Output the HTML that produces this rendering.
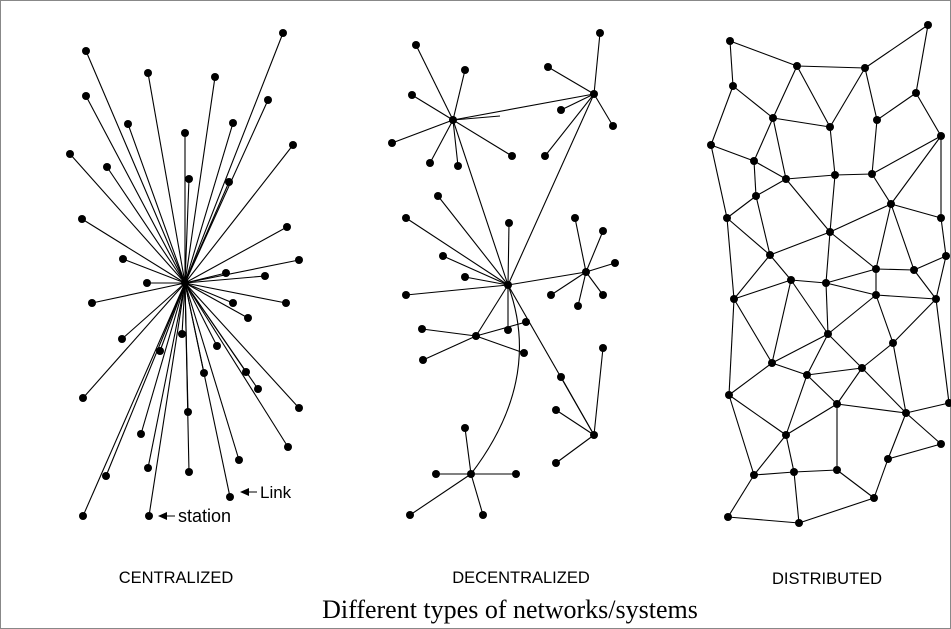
<!DOCTYPE html>
<html><head><meta charset="utf-8"><style>
html,body{margin:0;padding:0;background:#fff}
svg{display:block}
</style></head><body>
<svg id="chart" width="951" height="629" viewBox="0 0 951 629" xmlns="http://www.w3.org/2000/svg">
<rect x="0.5" y="0.5" width="950" height="628" fill="#fff" stroke="#888" stroke-width="1"/>
<g id="edges" stroke="#000" stroke-width="1.1" fill="none"></g>
<g id="nodes" fill="#000"></g>
<text x="176" y="583" font-family="Liberation Sans, sans-serif" font-size="16.5" text-anchor="middle">CENTRALIZED</text>
<text x="521" y="583" font-family="Liberation Sans, sans-serif" font-size="16.5" text-anchor="middle">DECENTRALIZED</text>
<text x="827" y="584" font-family="Liberation Sans, sans-serif" font-size="16.5" text-anchor="middle">DISTRIBUTED</text>
<text x="510" y="618" font-family="Liberation Serif, serif" font-size="26" text-anchor="middle">Different types of networks/systems</text>
<g>
<polygon points="240,492 249,488 249,496" fill="#000"/><line x1="248" y1="492" x2="257" y2="492" stroke="#000"/>
<text x="260" y="498" font-family="Liberation Sans, sans-serif" font-size="17">Link</text></g>
<g>
<polygon points="158,516 167,512 167,520" fill="#000"/><line x1="166" y1="516" x2="175" y2="516" stroke="#000"/>
<text x="178" y="522" font-family="Liberation Sans, sans-serif" font-size="18">station</text></g>
</svg>
<script>
const centralHub=[185,283];
const centralLeaves=[[86,51],[283,33],[148,73],[86,96],[215,77],[268,100],[128,124],[185,133],[233,123],[70,154],[293,145],[107,167],[189,179],[229,182],[82,219],[287,227],[123,259],[147,283],[226,273],[265,276],[299,260],[92,303],[233,303],[286,303],[182,334],[122,339],[248,318],[160,351],[217,346],[83,398],[204,373],[246,372],[188,412],[141,434],[258,389],[299,408],[288,447],[148,468],[189,472],[239,460],[106,476],[230,497],[83,516],[149,516]];
const decHubs=[[453,120],[594,94],[508,285],[586,272],[476,336],[594,435],[471,474]];
const decLeaves=[
[[416,45],[465,70],[412,95],[392,143],[430,163],[458,166],[512,156]],
[[600,33],[548,67],[561,110],[613,126],[545,156]],
[[438,196],[406,218],[443,256],[465,277],[509,223],[406,295],[508,330]],
[[575,218],[603,231],[615,263],[551,295],[578,306],[603,295]],
[[422,329],[526,322],[423,360],[524,353]],
[[603,348],[561,377],[556,410],[556,463]],
[[465,428],[436,474],[516,474],[410,515],[483,515]]];
const decHubLinks=[[0,1],[0,2],[1,2],[2,3],[2,4],[2,5]];
const distNames="a b c d e f g h i j k l m n o p q r s t u v w x y z A B C D E F G H I J K L M N O P Q R S T U".split(" ");
const distNodes=[[730,41],[797,66],[865,68],[928,25],[733,86],[916,93],[773,118],[830,127],[877,120],[711,145],[941,136],[754,161],[786,179],[835,175],[872,174],[756,196],[891,204],[727,218],[941,218],[830,232],[770,255],[946,256],[876,269],[914,270],[791,280],[826,283],[876,295],[936,299],[734,299],[828,334],[893,343],[772,363],[807,375],[862,368],[729,395],[837,404],[906,413],[949,403],[786,435],[941,444],[888,459],[754,475],[794,472],[837,470],[874,498],[728,517],[799,523]];
const distEdges=["a-b","a-e","b-c","b-g","b-h","c-d","c-h","c-i","d-f","f-i","f-k","e-g","e-j","g-h","g-l","g-m","h-n","i-o","j-l","j-r","l-m","l-p","m-n","m-t","n-o","n-t","o-k","o-q","k-q","k-s","q-s","q-t","q-w","q-x","p-m","p-r","p-u","r-u","r-C","u-t","t-z","t-w","w-x","x-v","s-v","u-y","u-C","x-B","v-B","C-y","y-z","y-D","y-F","C-F","C-I","z-A","z-D","z-w","w-A","A-B","A-E","D-H","D-A","D-F","D-G","G-F","G-H","G-J","H-E","H-J","H-K","E-B","E-K","B-L","K-L","K-N","J-K","J-R","J-M","G-M","I-M","I-P","M-P","M-Q","P-Q","Q-R","Q-U","P-T","T-U","U-S","R-S","S-O","O-N","O-K","F-I"];
const NS='http://www.w3.org/2000/svg';
const eg=document.getElementById('edges'), ng=document.getElementById('nodes');
function line(a,b,name){const l=document.createElementNS(NS,'line');l.setAttribute('x1',a[0]);l.setAttribute('y1',a[1]);l.setAttribute('x2',b[0]);l.setAttribute('y2',b[1]);


eg.appendChild(l);}
function dot(p,name){const c=document.createElementNS(NS,'circle');c.setAttribute('cx',p[0]);c.setAttribute('cy',p[1]);c.setAttribute('r',4);


ng.appendChild(c);}
centralLeaves.forEach(p=>{line(centralHub,p,'central-link');dot(p,'central-station');});
dot(centralHub,'central-hub');
decHubLinks.forEach(([a,b])=>line(decHubs[a],decHubs[b],'hub-link'));
const cp=document.createElementNS(NS,'path');
const C=decHubs[2],G=decHubs[6];
cp.setAttribute('d',`M${C[0]},${C[1]} Q${C[0]+35},${(C[1]+G[1])/2} ${G[0]},${G[1]}`);


eg.appendChild(cp);
line(decHubs[0],[500,116],'stub-link');
decHubs.forEach((h,i)=>{decLeaves[i].forEach(p=>{line(h,p,'decentral-link');dot(p,'decentral-station');});dot(h,'decentral-hub');});
const idx=n=>distNames.indexOf(n);
distEdges.forEach(e=>{const [a,b]=e.split("-");line(distNodes[idx(a)],distNodes[idx(b)],'distributed-link');});
distNodes.forEach(p=>dot(p,'distributed-station'));
</script>
</body></html>
